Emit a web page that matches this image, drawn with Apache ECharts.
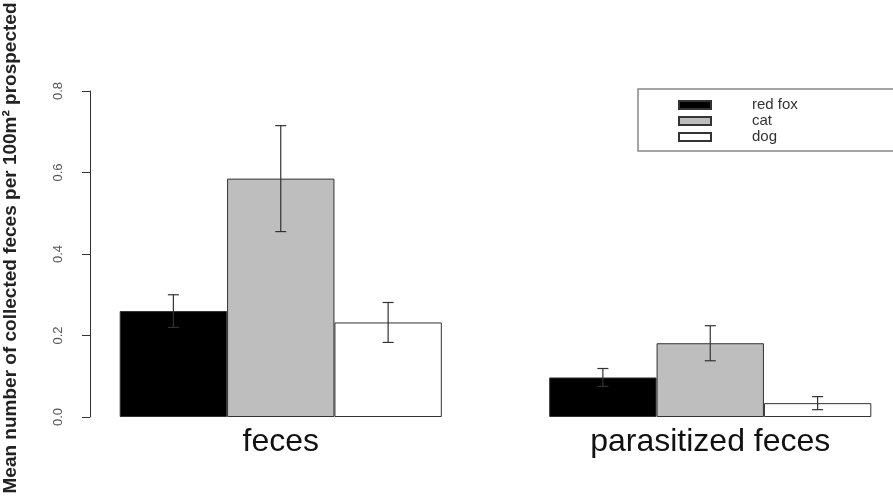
<!DOCTYPE html>
<html>
<head>
<meta charset="utf-8">
<script src="https://cdn.jsdelivr.net/npm/echarts@6/dist/echarts.min.js"></script>
<style>
  html, body { margin: 0; padding: 0; background: #fff; overflow: hidden; }
  #chart { width: 893px; height: 496px; }
</style>
</head>
<body>
<div id="chart"></div>
<script>
// Sample types on the x axis
const categories = ['feces', 'parasitized feces'];

// Mean number of feces per 100 m² and standard errors, per species
const species = ['red fox', 'cat', 'dog'];
const redFoxMean = [0.26, 0.097];
const redFoxSE   = [0.04, 0.022];
const catMean    = [0.585, 0.181];
const catSE      = [0.13, 0.043];
const dogMean    = [0.232, 0.034];
const dogSE      = [0.049, 0.016];

const yTicks = [0.0, 0.2, 0.4, 0.6, 0.8];

const means = [redFoxMean, catMean, dogMean];
const errors = [redFoxSE, catSE, dogSE];
const fills = ['#000000', '#bebebe', '#ffffff'];

const FONT = '"Liberation Sans", Arial, Helvetica, sans-serif';
const CATEGORY_GAP = 0.25;

const barSeries = species.map((name, i) => ({
  name: name,
  type: 'bar',
  barGap: '0%',
  barCategoryGap: (CATEGORY_GAP * 100) + '%',
  data: means[i],
  itemStyle: { color: fills[i], borderColor: '#333', borderWidth: 1 },
  emphasis: { disabled: true },
  z: 2
}));

// Error bars drawn as whiskers centred on each bar
const errorSeries = species.map((name, i) => ({
  name: name + ' SE',
  type: 'custom',
  z: 5,
  silent: true,
  data: means[i].map((m, c) => [c, m, errors[i][c]]),
  encode: { x: 0, y: 1 },
  renderItem: function (params, api) {
    const c = api.value(0), m = api.value(1), e = api.value(2);
    const band = api.size([1, 0])[0];
    const barW = band * (1 - CATEGORY_GAP) / species.length;
    const cx = api.coord([c, m])[0] + (i - (species.length - 1) / 2) * barW;
    const yTop = api.coord([c, m + e])[1];
    const yBot = api.coord([c, m - e])[1];
    const cap = 5.5;
    const style = { stroke: '#333', lineWidth: 1.2 };
    return {
      type: 'group',
      children: [
        { type: 'line', shape: { x1: cx, y1: yTop, x2: cx, y2: yBot }, style: style },
        { type: 'line', shape: { x1: cx - cap, y1: yTop, x2: cx + cap, y2: yTop }, style: style },
        { type: 'line', shape: { x1: cx - cap, y1: yBot, x2: cx + cap, y2: yBot }, style: style }
      ]
    };
  }
}));

const chart = echarts.init(document.getElementById('chart'), null, { renderer: 'canvas' });
chart.setOption({
  backgroundColor: '#ffffff',
  animation: false,
  textStyle: { fontFamily: FONT },
  grid: { left: 66, width: 859, top: 91, height: 326, outerBoundsMode: 'none', containLabel: false },
  legend: {
    data: species,
    orient: 'vertical',
    left: 638,
    top: 89,
    icon: 'rect',
    itemWidth: 32,
    itemHeight: 8,
    itemGap: 0,
    padding: [8, 260, 6, 40],
    borderColor: '#888',
    borderWidth: 1.5,
    selectedMode: false,
    textStyle: {
      fontFamily: FONT,
      fontSize: 15,
      lineHeight: 16,
      color: '#333',
      padding: [0, 0, 0, 36]
    }
  },
  xAxis: {
    type: 'category',
    data: categories,
    axisLine: { show: false },
    axisTick: { show: false },
    axisLabel: { fontSize: 32, color: '#111', margin: 9, fontFamily: FONT }
  },
  yAxis: {
    type: 'value',
    min: 0,
    max: 0.8,
    interval: 0.2,
    offset: -24,
    name: 'Mean number of collected feces per 100m\u00b2 prospected',
    nameLocation: 'middle',
    nameGap: 70,
    nameTextStyle: {
      fontSize: 19, fontWeight: 'bold', color: '#222', fontFamily: FONT,
      padding: [0, 0, 0, 12]
    },
    splitLine: { show: false },
    axisLine: { show: true, lineStyle: { color: '#333', width: 1 } },
    axisTick: { show: true, length: 8, lineStyle: { color: '#333' } },
    axisLabel: {
      rotate: 90,
      margin: 25,
      fontSize: 13,
      color: '#555',
      fontFamily: FONT,
      formatter: v => {
        const t = yTicks.find(x => Math.abs(x - v) < 1e-9);
        return (t === undefined ? v : t).toFixed(1);
      }
    }
  },
  series: barSeries.concat(errorSeries)
});
</script>
</body>
</html>
